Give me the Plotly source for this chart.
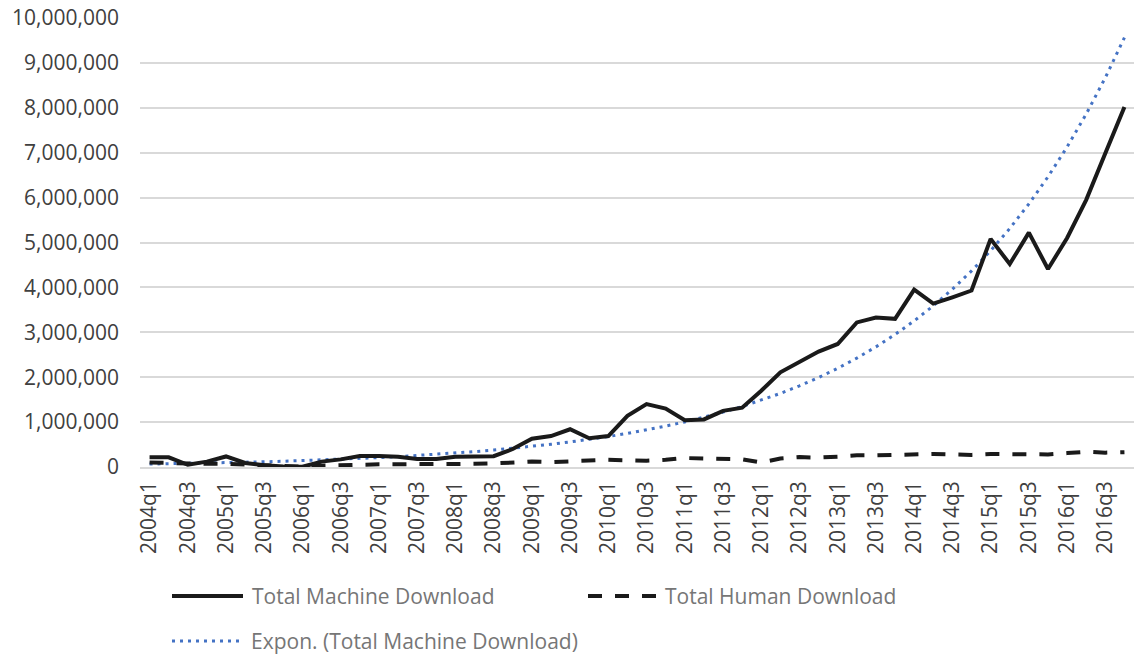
import plotly.graph_objects as go

years = list(range(2004, 2017))
quarters = [f"{y}q{q}" for y in years for q in range(1, 5)]
tick_labels = quarters[::2]

machine = [215000, 215000, 50000, 120000, 235000, 90000, 40000, 10000,
           5000, 120000, 170000, 245000, 245000, 230000, 180000, 180000,
           230000, 240000, 240000, 400000, 630000, 690000, 840000, 640000,
           690000, 1140000, 1400000, 1300000, 1040000, 1060000, 1250000, 1320000,
           1700000, 2110000, 2340000, 2570000, 2740000, 3220000, 3330000, 3300000,
           3950000, 3640000, 3780000, 3930000, 5080000, 4520000, 5220000, 4410000,
           5100000, 5950000, 6990000, 8020000]

human = [100000, 90000, 60000, 70000, 70000, 60000, 40000, 20000,
         10000, 30000, 50000, 50000, 60000, 60000, 50000, 50000,
         60000, 70000, 80000, 100000, 120000, 110000, 130000, 140000,
         160000, 150000, 140000, 160000, 200000, 190000, 190000, 170000,
         100000, 190000, 220000, 210000, 230000, 260000, 260000, 270000,
         290000, 290000, 280000, 270000, 290000, 280000, 270000, 280000,
         310000, 340000, 320000, 330000]

trend = [65000, 71000, 79000, 87000, 96000, 105000, 116000, 128000,
         142000, 156000, 172000, 190000, 209000, 231000, 255000, 281000,
         310000, 342000, 377000, 416000, 459000, 506000, 558000, 615000,
         679000, 748000, 826000, 911000, 1004000, 1108000, 1222000, 1347000,
         1486000, 1639000, 1808000, 1994000, 2199000, 2426000, 2676000, 2951000,
         3255000, 3590000, 3960000, 4367000, 4817000, 5313000, 5860000, 6463000,
         7128000, 7862000, 8672000, 9564000]

FONT = "Open Sans, Noto Sans, Liberation Sans, sans-serif"
DOT = "3px,5px"
DASH = "14px,13px"
INK = "#1a1a1a"
BLUE = "#4472C4"

fig = go.Figure()
fig.add_trace(go.Scatter(x=quarters, y=trend, mode="lines",
                         name="Expon. (Total Machine Download)",
                         line=dict(color=BLUE, width=3, dash=DOT)))
fig.add_trace(go.Scatter(x=quarters, y=human, mode="lines",
                         name="Total Human Download",
                         line=dict(color=INK, width=4, dash=DASH)))
fig.add_trace(go.Scatter(x=quarters, y=machine, mode="lines",
                         name="Total Machine Download",
                         line=dict(color=INK, width=4)))

L, T, PW, PH = 140, 18, 994, 449


def px(x):
    return (x - L) / PW


def py(y):
    return (T + PH - y) / PH


legend_items = [
    ("Total Machine Download", 172, 243, 596, "solid", 250),
    ("Total Human Download", 588, 657, 596, DASH, 663),
    ("Expon. (Total Machine Download)", 172, 243, 641, DOT, 249),
]
shapes = []
annotations = []
for name, x0, x1, yy, dash, tx in legend_items:
    color = BLUE if dash == DOT else INK
    width = 3 if dash == DOT else 4
    shapes.append(dict(type="line", xref="paper", yref="paper",
                       x0=px(x0), x1=px(x1), y0=py(yy), y1=py(yy),
                       line=dict(color=color, width=width, dash=dash)))
    annotations.append(dict(text=name, xref="paper", yref="paper",
                            x=px(tx), y=py(yy), xanchor="left", yanchor="middle",
                            showarrow=False,
                            font=dict(family=FONT, size=21, color="#767676")))

fig.update_layout(
    width=1134, height=657,
    margin=dict(l=L, r=0, t=T, b=657 - T - PH),
    paper_bgcolor="white", plot_bgcolor="white",
    showlegend=False,
    shapes=shapes, annotations=annotations,
    font=dict(family=FONT, size=21, color="#404040"),
    xaxis=dict(type="category", categoryorder="array", categoryarray=quarters,
               range=[-0.5, len(quarters) - 0.5],
               tickmode="array", tickvals=tick_labels, ticktext=tick_labels,
               tickangle=-90, showgrid=False, ticks="",
               showline=True, linecolor="#d9d9d9", linewidth=1.5,
               tickfont=dict(family=FONT, size=21, color="#404040"),
               ticklabelstandoff=4),
    yaxis=dict(range=[0, 10000000], dtick=1000000, tickformat=",",
               showgrid=True, gridcolor="#d9d9d9", gridwidth=1.5,
               zeroline=True, zerolinecolor="#d9d9d9", zerolinewidth=1.5,
               showline=False, ticks="",
               tickfont=dict(family=FONT, size=21, color="#404040"),
               ticklabelstandoff=20),
)

fig.write_html(
    "out.html",
    config={"displayModeBar": False},
    post_script="document.body.style.margin='0';document.body.style.overflow='hidden';",
)
